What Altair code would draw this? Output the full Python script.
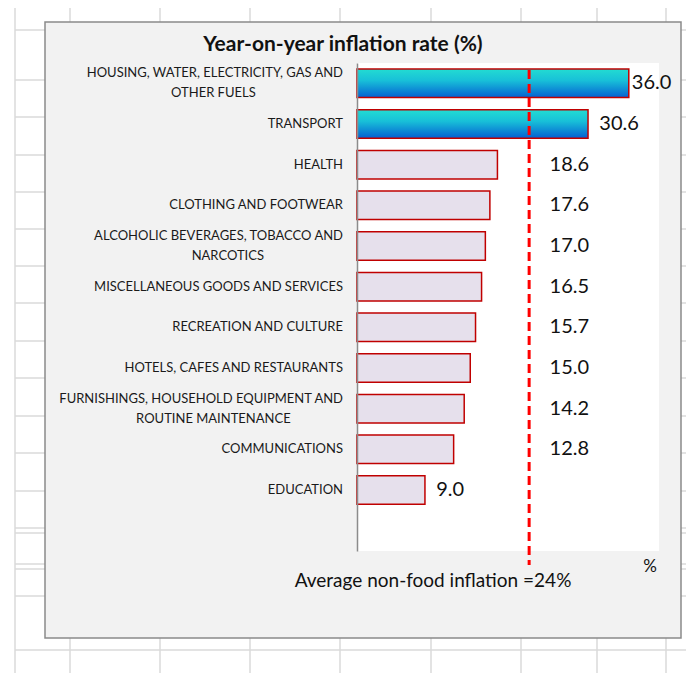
import altair as alt
import pandas as pd

# ---------------- data ----------------
categories = [
    "HOUSING, WATER, ELECTRICITY, GAS AND\nOTHER FUELS",
    "TRANSPORT",
    "HEALTH",
    "CLOTHING AND FOOTWEAR",
    "ALCOHOLIC BEVERAGES, TOBACCO AND\nNARCOTICS",
    "MISCELLANEOUS GOODS AND SERVICES",
    "RECREATION AND CULTURE",
    "HOTELS, CAFES AND RESTAURANTS",
    "FURNISHINGS, HOUSEHOLD EQUIPMENT AND\nROUTINE MAINTENANCE",
    "COMMUNICATIONS",
    "EDUCATION",
]
values = [36.0, 30.6, 18.6, 17.6, 17.0, 16.5, 15.7, 15.0, 14.2, 12.8, 9.0]
highlighted = [categories[0], categories[1]]
avg_marker = 22.8          # where the dashed marker is drawn
avg_text = "Average non-food inflation =24%"
title_text = "Year-on-year inflation rate (%)"
unit_text = "%"

# spreadsheet grid behind the chart (page pixels, decoration only)
grid_x_page = [15, 70, 160, 250, 340, 431, 521, 597, 666]
grid_y_page = [30, 80, 117, 155, 192, 229, 266, 303, 341, 378, 416, 453, 491,
               528, 533, 564, 569, 596, 650]

# ---------------- layout ----------------
W, H = 302, 488
OX, OY = 357, 63           # plot origin on the page
FONT = "Lato"
PX_PER_UNIT = W / 40.0

df = pd.DataFrame({"cat": categories, "value": values})
df["hl"] = df["cat"].isin(highlighted)

domain = categories + [" "]
y_enc = alt.Y("cat:N",
              scale=alt.Scale(domain=domain, paddingInner=0.3, paddingOuter=0.15),
              axis=alt.Axis(labels=False, ticks=False, title=None, grid=False,
                            domainColor="#8c8c8c", domainWidth=1.5, zindex=1))
x_scale = alt.Scale(domain=[0, 40], nice=False, zero=True)

layers = []

# grid
for gx in grid_x_page:
    layers.append(alt.Chart(pd.DataFrame({"a": [0]})).mark_rule(color="#dadada", strokeWidth=1.5)
                  .encode(x=alt.value(gx - OX), y=alt.value(8 - OY), y2=alt.value(673 - OY)))
for gy in grid_y_page:
    layers.append(alt.Chart(pd.DataFrame({"a": [0]})).mark_rule(color="#dadada", strokeWidth=1.5)
                  .encode(y=alt.value(gy - OY), x=alt.value(15 - OX), x2=alt.value(686 - OX)))

# chart box
layers.append(alt.Chart(pd.DataFrame({"a": [0]})).mark_rect(fill="#f2f2f2", stroke="#8a8a8a", strokeWidth=1.5)
              .encode(x=alt.value(45 - OX), x2=alt.value(681 - OX),
                      y=alt.value(22 - OY), y2=alt.value(638 - OY)))
# plot area
layers.append(alt.Chart(pd.DataFrame({"a": [0]})).mark_rect(fill="white")
              .encode(x=alt.value(0), x2=alt.value(W), y=alt.value(0), y2=alt.value(H)))

base = alt.Chart(df)

bars_plain = base.transform_filter("!datum.hl").mark_bar(
    fill="#e6e0ec", stroke="#c00000", strokeWidth=1.5
).encode(x=alt.X("value:Q", scale=x_scale, axis=None), y=y_enc)

grad = alt.Gradient(
    gradient="linear",
    stops=[alt.GradientStop(color="#22dcd2", offset=0),
           alt.GradientStop(color="#18c0d8", offset=0.4),
           alt.GradientStop(color="#0560d2", offset=1)],
    x1=0, x2=0, y1=0, y2=1,
)
bars_hl = base.transform_filter("datum.hl").mark_bar(
    fill=grad, stroke="#c00000", strokeWidth=1.5
).encode(x=alt.X("value:Q", scale=x_scale, axis=None), y=y_enc)

layers += [bars_plain, bars_hl]

# dashed average marker
layers.append(alt.Chart(pd.DataFrame({"v": [avg_marker]})).mark_rule(
    color="#ff0000", strokeWidth=3, strokeDash=[9, 5]
).encode(x=alt.X("v:Q", scale=x_scale, axis=None), y=alt.value(7), y2=alt.value(502)))

# value labels (labels of bars left of the marker are moved just right of it)
val_labels = base.transform_calculate(
    lx=(f"datum.value < {avg_marker} && datum.value > 10 ? {avg_marker} + 2.7 : "
        "(datum.value > 34 ? datum.value + 0.4 : datum.value + 1.5)")
).mark_text(align="left", baseline="middle", font=FONT, fontSize=20, color="#111111").encode(
    x=alt.X("lx:Q", scale=x_scale, axis=None), y=y_enc,
    text=alt.Text("value:Q", format=".1f"))
layers.append(val_labels)

# category labels
cat_base = base.transform_calculate(
    l1="split(datum.cat, '\\n')[0]",
    l2="length(split(datum.cat, '\\n')) > 1 ? split(datum.cat, '\\n')[1] : ''",
)
lab_style = dict(baseline="middle", font=FONT, fontSize=13, color="#1a1a1a")
layers.append(cat_base.transform_filter("datum.l2 == ''").mark_text(align="right", **lab_style)
              .encode(x=alt.value(-14), y=y_enc, text="l1:N"))
layers.append(cat_base.transform_filter("datum.l2 != ''").mark_text(align="right", dy=-10, **lab_style)
              .encode(x=alt.value(-14), y=y_enc, text="l1:N"))
layers.append(cat_base.transform_filter("datum.l2 != ''").transform_calculate(
    lx=f"(-14 - length(datum.l1) * 3.6) / {PX_PER_UNIT}"
).mark_text(align="center", dy=10, **lab_style)
              .encode(x=alt.X("lx:Q", scale=x_scale, axis=None), y=y_enc, text="l2:N"))

# title and notes
layers.append(alt.Chart(pd.DataFrame({"t": [title_text]})).mark_text(
    align="center", baseline="middle", font=FONT, fontSize=21, fontWeight="bold", color="#111111"
).encode(x=alt.value(343 - OX), y=alt.value(45 - OY), text="t:N"))
layers.append(alt.Chart(pd.DataFrame({"t": [avg_text]})).mark_text(
    align="center", baseline="middle", font=FONT, fontSize=19, color="#111111"
).encode(x=alt.value(433 - OX), y=alt.value(581 - OY), text="t:N"))
layers.append(alt.Chart(pd.DataFrame({"t": [unit_text]})).mark_text(
    align="center", baseline="middle", font=FONT, fontSize=17, color="#111111"
).encode(x=alt.value(650 - OX), y=alt.value(567 - OY), text="t:N"))

chart = alt.layer(*layers).properties(
    width=W, height=H,
    autosize=alt.AutoSizeParams(type="none"),
    padding={"left": OX - 8, "top": OY - 8, "right": 678 - (OX - 8) - W, "bottom": 665 - (OY - 8) - H},
    background="white",
).configure_view(strokeWidth=0)

chart.save("out.html", embed_options={"renderer": "svg", "actions": False})
